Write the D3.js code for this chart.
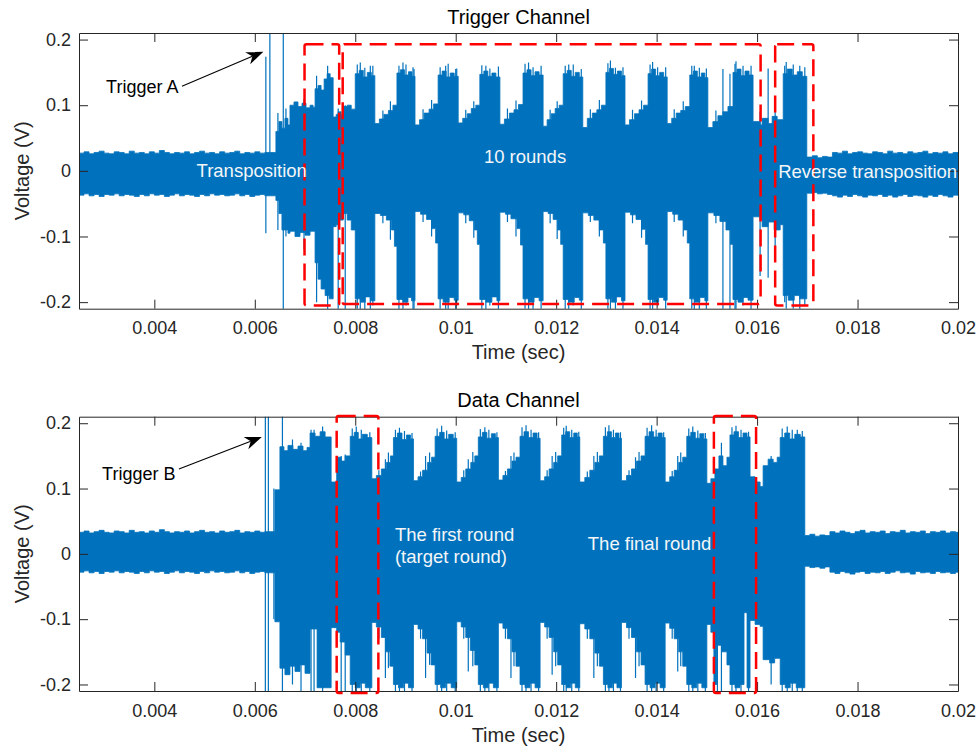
<!DOCTYPE html>
<html>
<head>
<meta charset="utf-8">
<script src="https://cdn.jsdelivr.net/npm/d3@7"></script>
<style>
  body { margin: 0; background: #fff; }
  text { font-family: "Liberation Sans", Arial, Helvetica, sans-serif; }
</style>
</head>
<body>
<svg id="chart" width="979" height="750"></svg>
<script>
// ---- axis settings ----
const timeDomainMs = [2.5, 20];          // time axis, milliseconds
const voltDomain = [-0.21, 0.21];
const xTickValuesMs = [4, 6, 8, 10, 12, 14, 16, 18, 20];
const xTickLabels = ["0.004", "0.006", "0.008", "0.01", "0.012", "0.014", "0.016", "0.018", "0.02"];
const yTickValues = [-0.2, -0.1, 0, 0.1, 0.2];
const yTickLabels = ["-0.2", "-0.1", "0", "0.1", "0.2"];

// ---- Trigger channel envelope: [time (ms), volts], step-wise ----
const trigUpper = [
  [2.5,.027],[2.6,.029],[2.7,.026],[2.8,.028],[2.9,.030],[3.0,.027],[3.1,.026],[3.2,.029],[3.3,.028],[3.4,.026],[3.5,.030],[3.6,.027],[3.7,.028],
  [3.8,.026],[3.9,.029],[4.0,.027],[4.1,.031],[4.2,.028],[4.3,.026],[4.4,.028],[4.5,.027],[4.6,.029],[4.7,.026],[4.8,.028],[4.9,.030],[5.0,.027],
  [5.1,.028],[5.2,.026],[5.3,.029],[5.4,.027],[5.5,.028],[5.6,.030],[5.7,.026],[5.8,.028],[5.9,.027],[6.0,.029],[6.1,.027],[6.2,.028],
  [6.42,.06],[6.48,.075],[6.54,.065],[6.60,.08],[6.66,.07],[6.70,.10],[6.78,.105],[6.86,.098],[6.94,.103],[7.02,.096],[7.10,.10],[7.16,.097],
  [7.20,.125],[7.26,.13],[7.32,.123],[7.38,.14],[7.44,.148],[7.50,.142],[7.56,.082],[7.62,.086],[7.66,.09],[7.72,.085],[7.76,.098],[7.84,.10],[7.92,.094],
  [8.00,.148],[8.08,.153],[8.16,.143],[8.24,.150],[8.32,.145],
  [8.39,.072],[8.48,.079],[8.57,.086],[8.66,.092],[8.75,.10],
  [8.83,.149],[8.90,.154],[8.98,.146],[9.06,.151],[9.13,.144],
  [9.19,.07],[9.28,.078],[9.37,.088],[9.47,.094],[9.56,.102],
  [9.65,.146],[9.73,.152],[9.81,.143],[9.89,.149],[9.97,.144],
  [10.05,.073],[10.14,.08],[10.23,.087],[10.31,.095],[10.40,.10],
  [10.48,.147],[10.56,.152],[10.64,.144],[10.72,.149],[10.80,.143],
  [10.88,.071],[10.97,.079],[11.07,.088],[11.16,.093],[11.25,.101],
  [11.34,.149],[11.42,.154],[11.50,.145],[11.58,.151],[11.66,.146],
  [11.74,.068],[11.82,.078],[11.90,.087],[11.98,.095],[12.06,.10],
  [12.14,.148],[12.22,.153],[12.30,.144],[12.38,.150],[12.46,.143],
  [12.53,.066],[12.62,.08],[12.72,.088],[12.81,.093],[12.90,.10],
  [12.99,.150],[13.06,.156],[13.14,.147],[13.22,.152],[13.30,.145],
  [13.37,.07],[13.46,.078],[13.56,.087],[13.65,.093],[13.74,.10],
  [13.83,.148],[13.90,.155],[13.98,.145],[14.06,.150],[14.14,.143],
  [14.21,.072],[14.30,.08],[14.39,.088],[14.48,.092],[14.57,.098],
  [14.66,.146],[14.73,.152],[14.81,.143],[14.89,.149],[14.96,.142],
  [15.02,.066],[15.12,.075],[15.22,.084],[15.32,.09],[15.42,.098],
  [15.52,.150],[15.60,.155],[15.68,.145],[15.76,.152],[15.84,.146],
  [15.92,.075],[16.06,.07],[16.10,.08],[16.22,.072],[16.30,.083],[16.40,.078],
  [16.52,.148],[16.60,.155],[16.70,.146],[16.80,.151],[16.90,.144],
  [16.99,.021],[17.1,.023],[17.2,.020],[17.3,.022],[17.4,.021],[17.5,.028],[17.6,.027],[17.7,.030],[17.8,.026],[17.9,.028],[18.0,.029],
  [18.1,.027],[18.2,.026],[18.3,.029],[18.4,.028],[18.5,.026],[18.6,.030],[18.7,.027],[18.8,.028],[18.9,.026],[19.0,.029],[19.1,.027],
  [19.2,.028],[19.3,.030],[19.4,.026],[19.5,.028],[19.6,.027],[19.7,.029],[19.8,.026],[19.9,.028],[20,.028]
];
const trigLower = [
  [2.5,-.037],[2.6,-.035],[2.7,-.038],[2.8,-.036],[2.9,-.039],[3.0,-.036],[3.1,-.037],[3.2,-.035],[3.3,-.038],[3.4,-.036],[3.5,-.037],[3.6,-.039],
  [3.7,-.036],[3.8,-.038],[3.9,-.035],[4.0,-.037],[4.1,-.036],[4.2,-.039],[4.3,-.037],[4.4,-.035],[4.5,-.038],[4.6,-.036],[4.7,-.037],[4.8,-.039],
  [4.9,-.036],[5.0,-.038],[5.1,-.035],[5.2,-.037],[5.3,-.036],[5.4,-.038],[5.5,-.037],[5.6,-.035],[5.7,-.038],[5.8,-.036],[5.9,-.039],[6.0,-.037],
  [6.1,-.036],[6.2,-.038],
  [6.42,-.045],[6.48,-.065],[6.54,-.09],[6.66,-.095],[6.70,-.092],[6.80,-.10],[6.90,-.094],[7.00,-.098],[7.10,-.092],
  [7.20,-.14],[7.26,-.165],[7.32,-.18],[7.40,-.19],[7.48,-.195],[7.56,-.085],[7.62,-.082],[7.66,-.075],[7.76,-.065],[7.84,-.075],[7.92,-.09],
  [8.00,-.195],[8.10,-.20],[8.20,-.192],[8.30,-.198],
  [8.39,-.065],[8.50,-.068],[8.62,-.075],[8.72,-.09],[8.78,-.115],
  [8.83,-.196],[8.95,-.20],[9.05,-.193],[9.12,-.198],
  [9.19,-.062],[9.30,-.066],[9.42,-.074],[9.52,-.088],[9.60,-.11],
  [9.65,-.195],[9.75,-.20],[9.87,-.193],[9.97,-.197],
  [10.05,-.064],[10.16,-.067],[10.27,-.076],[10.37,-.09],[10.43,-.112],
  [10.48,-.196],[10.60,-.20],[10.72,-.192],[10.82,-.198],
  [10.88,-.063],[10.99,-.066],[11.10,-.073],[11.22,-.088],[11.29,-.113],
  [11.34,-.195],[11.45,-.20],[11.56,-.193],[11.66,-.198],
  [11.74,-.062],[11.84,-.065],[11.94,-.074],[12.03,-.09],[12.09,-.112],
  [12.14,-.196],[12.25,-.20],[12.36,-.193],[12.46,-.197],
  [12.53,-.064],[12.64,-.068],[12.75,-.075],[12.86,-.09],[12.94,-.11],
  [12.99,-.195],[13.10,-.20],[13.20,-.192],[13.30,-.198],
  [13.37,-.063],[13.48,-.067],[13.59,-.074],[13.70,-.089],[13.78,-.112],
  [13.83,-.196],[13.94,-.20],[14.04,-.193],[14.14,-.197],
  [14.21,-.062],[14.32,-.066],[14.43,-.075],[14.54,-.09],[14.61,-.11],
  [14.66,-.195],[14.76,-.20],[14.86,-.193],[14.96,-.198],
  [15.02,-.064],[15.14,-.068],[15.26,-.077],[15.38,-.09],[15.47,-.112],
  [15.52,-.196],[15.62,-.20],[15.72,-.193],[15.82,-.197],
  [15.92,-.07],[16.06,-.075],[16.10,-.085],[16.22,-.078],[16.34,-.09],[16.46,-.082],
  [16.52,-.19],[16.62,-.197],[16.74,-.19],[16.85,-.195],
  [16.99,-.034],[17.1,-.033],[17.2,-.035],[17.3,-.034],[17.4,-.036],[17.5,-.038],[17.6,-.040],[17.7,-.037],[17.8,-.039],[17.9,-.036],[18.0,-.038],
  [18.1,-.040],[18.2,-.037],[18.3,-.038],[18.4,-.036],[18.5,-.039],[18.6,-.037],[18.7,-.040],[18.8,-.038],[18.9,-.036],[19.0,-.039],[19.1,-.037],
  [19.2,-.038],[19.3,-.040],[19.4,-.037],[19.5,-.039],[19.6,-.036],[19.7,-.038],[19.8,-.040],[19.9,-.037],[20,-.037]
];
// thin excursions drawn as single lines: [time (ms), low V, high V]
const trigSpikes = [
  [6.22,-.095,.174],[6.30,-.035,.23],[6.46,-.09,.088],[6.567,-.23,.23],[6.62,-.10,.095],[6.98,-.12,.11],
  [7.23,-.20,.145],[7.45,-.23,.16],[7.66,-.23,.095],[7.80,-.22,.10],
  [8.04,-.21,.162],[8.10,-.23,.165],[8.19,-.215,.157],[8.30,-.22,.16],[8.35,-.205,.16],[8.55,-.08,.092],[8.70,-.105,.106],
  [8.87,-.212,.16],[8.95,-.23,.165],[9.01,-.205,.162],[9.15,-.22,.158],[9.17,-.215,.155],[9.35,-.078,.094],[9.52,-.10,.108],
  [9.69,-.21,.158],[9.80,-.23,.16],[9.85,-.215,.163],[10.00,-.22,.155],[10.02,-.205,.156],[10.20,-.08,.093],[10.36,-.102,.106],
  [10.52,-.212,.161],[10.60,-.23,.16],[10.68,-.205,.156],[10.85,-.215,.159],[11.03,-.078,.095],[11.20,-.10,.107],
  [11.38,-.21,.163],[11.45,-.23,.165],[11.54,-.215,.158],[11.70,-.21,.16],[11.88,-.08,.093],[12.02,-.104,.106],
  [12.18,-.212,.16],[12.25,-.23,.162],[12.34,-.205,.162],[12.50,-.215,.155],[12.68,-.078,.094],[12.86,-.10,.108],
  [13.03,-.21,.164],[13.08,-.23,.168],[13.18,-.215,.157],[13.33,-.22,.158],[13.52,-.08,.093],[13.70,-.102,.107],
  [13.87,-.212,.162],[13.92,-.23,.166],[14.02,-.205,.158],[14.18,-.22,.158],[14.35,-.078,.094],[14.53,-.10,.106],
  [14.70,-.21,.16],[14.75,-.23,.16],[14.85,-.215,.157],[14.99,-.22,.156],[15.18,-.08,.092],
  [15.32,-.23,.155],[15.46,-.23,.148],[15.56,-.212,.163],[15.58,-.22,.167],[15.72,-.205,.16],[15.88,-.23,.16],
  [16.06,-.16,.09],[16.22,-.163,.156],[16.36,-.13,.10],[16.55,-.20,.16],[16.58,-.21,.166],[16.72,-.21,.162],[16.85,-.215,.16],[16.95,-.205,.158]
];

// ---- Data channel envelope: [time (ms), volts], step-wise ----
const dataUpper = [
  [2.5,.033],[2.6,.035],[2.7,.032],[2.8,.034],[2.9,.036],[3.0,.033],[3.1,.032],[3.2,.035],[3.3,.034],[3.4,.032],[3.5,.036],[3.6,.033],[3.7,.034],
  [3.8,.032],[3.9,.035],[4.0,.033],[4.1,.037],[4.2,.034],[4.3,.032],[4.4,.034],[4.5,.033],[4.6,.035],[4.7,.032],[4.8,.034],[4.9,.036],[5.0,.033],
  [5.1,.034],[5.2,.032],[5.3,.035],[5.4,.033],[5.5,.034],[5.6,.036],[5.7,.032],[5.8,.034],[5.9,.033],[6.0,.035],[6.1,.033],[6.2,.034],
  [6.40,.098],[6.50,.164],[6.58,.158],[6.66,.166],[6.76,.16],[6.86,.165],[6.96,.158],[7.04,.163],
  [7.10,.185],[7.20,.18],[7.30,.187],[7.40,.179],[7.52,.11],[7.63,.148],[7.72,.142],[7.80,.15],
  [7.90,.18],[7.98,.186],[8.06,.176],[8.14,.183],[8.24,.178],
  [8.33,.115],[8.42,.12],[8.52,.13],[8.62,.14],[8.70,.15],
  [8.76,.178],[8.84,.185],[8.93,.175],[9.02,.182],[9.10,.176],
  [9.16,.112],[9.25,.118],[9.34,.128],[9.44,.14],[9.52,.148],
  [9.59,.18],[9.68,.186],[9.77,.176],[9.86,.183],[9.95,.177],
  [10.02,.11],[10.11,.117],[10.20,.13],[10.30,.14],[10.38,.15],
  [10.45,.179],[10.53,.186],[10.62,.177],[10.71,.184],[10.79,.178],
  [10.85,.113],[10.94,.12],[11.03,.13],[11.12,.142],[11.20,.148],
  [11.28,.18],[11.36,.187],[11.45,.178],[11.54,.185],[11.62,.177],
  [11.68,.112],[11.77,.118],[11.86,.13],[11.95,.14],[12.03,.15],
  [12.11,.182],[12.19,.187],[12.27,.178],[12.35,.185],[12.42,.179],
  [12.47,.11],[12.57,.117],[12.67,.128],[12.77,.14],[12.86,.15],
  [12.94,.18],[13.02,.187],[13.10,.178],[13.18,.185],[13.25,.177],
  [13.30,.112],[13.40,.12],[13.50,.13],[13.60,.142],[13.69,.15],
  [13.77,.18],[13.85,.187],[13.94,.179],[14.03,.185],[14.11,.178],
  [14.17,.11],[14.26,.118],[14.35,.128],[14.44,.14],[14.52,.148],
  [14.60,.18],[14.68,.186],[14.77,.177],[14.86,.184],[14.94,.176],
  [15.00,.108],[15.08,.115],[15.16,.13],[15.24,.15],[15.32,.135],[15.40,.148],
  [15.46,.182],[15.54,.187],[15.63,.178],[15.72,.185],[15.80,.179],
  [15.86,.118],[15.96,.11],[16.06,.103],[16.12,.135],[16.22,.145],[16.32,.14],[16.40,.148],
  [16.46,.178],[16.55,.185],[16.65,.176],[16.75,.183],[16.86,.179],
  [16.95,.028],[17.05,.030],[17.15,.027],[17.25,.029],[17.35,.028],[17.45,.034],[17.55,.032],[17.65,.035],[17.75,.033],[17.85,.031],[17.95,.034],
  [18.05,.036],[18.15,.032],[18.25,.034],[18.35,.033],[18.45,.035],[18.55,.031],[18.65,.034],[18.75,.033],[18.85,.036],[18.95,.032],[19.05,.034],
  [19.15,.033],[19.25,.035],[19.35,.031],[19.45,.034],[19.55,.033],[19.65,.035],[19.75,.032],[19.85,.034],[19.95,.033],[20,.033]
];
const dataLower = [
  [2.5,-.028],[2.6,-.026],[2.7,-.029],[2.8,-.027],[2.9,-.030],[3.0,-.027],[3.1,-.028],[3.2,-.026],[3.3,-.029],[3.4,-.027],[3.5,-.028],[3.6,-.030],
  [3.7,-.027],[3.8,-.029],[3.9,-.026],[4.0,-.028],[4.1,-.027],[4.2,-.030],[4.3,-.028],[4.4,-.026],[4.5,-.029],[4.6,-.027],[4.7,-.028],[4.8,-.030],
  [4.9,-.027],[5.0,-.029],[5.1,-.026],[5.2,-.028],[5.3,-.027],[5.4,-.029],[5.5,-.028],[5.6,-.026],[5.7,-.029],[5.8,-.027],[5.9,-.030],[6.0,-.028],
  [6.1,-.027],[6.2,-.029],
  [6.40,-.104],[6.50,-.175],[6.60,-.185],[6.70,-.172],[6.80,-.18],[6.90,-.17],[7.00,-.183],
  [7.10,-.115],[7.24,-.205],[7.52,-.113],[7.63,-.12],[7.70,-.135],[7.80,-.155],
  [7.90,-.20],[8.00,-.205],[8.10,-.198],[8.20,-.205],
  [8.33,-.105],[8.42,-.112],[8.52,-.128],[8.61,-.15],[8.69,-.172],
  [8.76,-.20],[8.86,-.205],[8.96,-.198],[9.06,-.205],
  [9.16,-.108],[9.25,-.115],[9.34,-.13],[9.43,-.152],[9.51,-.17],
  [9.59,-.20],[9.70,-.205],[9.80,-.198],[9.91,-.205],
  [10.02,-.104],[10.11,-.112],[10.20,-.128],[10.29,-.148],[10.38,-.17],
  [10.45,-.20],[10.55,-.205],[10.65,-.198],[10.75,-.205],
  [10.85,-.106],[10.94,-.114],[11.03,-.13],[11.12,-.15],[11.20,-.172],
  [11.28,-.20],[11.38,-.205],[11.48,-.198],[11.58,-.205],
  [11.68,-.105],[11.77,-.112],[11.86,-.128],[11.95,-.15],[12.03,-.17],
  [12.11,-.20],[12.20,-.205],[12.29,-.198],[12.38,-.205],
  [12.47,-.107],[12.57,-.115],[12.67,-.13],[12.77,-.152],[12.86,-.172],
  [12.94,-.20],[13.03,-.205],[13.12,-.198],[13.21,-.205],
  [13.30,-.105],[13.40,-.113],[13.50,-.128],[13.60,-.15],[13.69,-.17],
  [13.77,-.20],[13.87,-.205],[13.97,-.198],[14.07,-.205],
  [14.17,-.106],[14.26,-.114],[14.35,-.13],[14.44,-.15],[14.52,-.172],
  [14.60,-.20],[14.70,-.205],[14.80,-.198],[14.90,-.205],
  [15.00,-.108],[15.08,-.12],[15.14,-.20],[15.20,-.14],[15.30,-.15],[15.40,-.17],
  [15.46,-.20],[15.56,-.205],[15.66,-.20],[15.74,-.09],[15.80,-.205],
  [15.86,-.102],[15.96,-.108],[16.06,-.111],[16.12,-.162],[16.25,-.167],[16.35,-.16],
  [16.46,-.20],[16.56,-.205],[16.66,-.198],[16.78,-.205],
  [16.95,-.019],[17.05,-.021],[17.15,-.020],[17.25,-.022],[17.35,-.020],[17.45,-.028],[17.55,-.030],[17.65,-.027],[17.75,-.029],[17.85,-.031],
  [17.95,-.028],[18.05,-.027],[18.15,-.030],[18.25,-.028],[18.35,-.029],[18.45,-.027],[18.55,-.030],[18.65,-.028],[18.75,-.026],[18.85,-.029],
  [18.95,-.028],[19.05,-.031],[19.15,-.027],[19.25,-.029],[19.35,-.028],[19.45,-.030],[19.55,-.027],[19.65,-.029],[19.75,-.028],[19.85,-.030],
  [19.95,-.028],[20,-.028]
];
const dataSpikes = [
  [6.21,-.23,.23],[6.27,-.23,.23],[6.38,-.10,.10],[6.55,-.23,.23],[6.75,-.20,.175],[6.92,-.21,.17],
  [7.12,-.23,.19],[7.18,-.23,.19],[7.35,-.23,.195],[7.72,-.23,.15],[7.80,-.23,.152],
  [7.94,-.215,.192],[8.02,-.23,.195],[8.12,-.21,.19],[8.29,-.215,.186],[8.47,-.13,.128],[8.60,-.19,.145],[8.66,-.175,.155],
  [8.80,-.215,.19],[8.88,-.23,.193],[8.98,-.21,.188],[9.13,-.215,.185],[9.30,-.13,.126],[9.40,-.19,.15],[9.48,-.17,.155],
  [9.63,-.215,.192],[9.72,-.23,.196],[9.82,-.21,.189],[9.99,-.215,.186],[10.16,-.13,.128],[10.25,-.18,.145],[10.34,-.172,.156],
  [10.49,-.215,.191],[10.58,-.23,.194],[10.66,-.21,.19],[10.82,-.215,.186],[10.99,-.13,.127],[11.10,-.19,.15],[11.16,-.172,.155],
  [11.32,-.215,.194],[11.40,-.23,.197],[11.50,-.21,.19],[11.65,-.215,.186],[11.82,-.13,.128],[11.92,-.185,.15],[11.99,-.172,.156],
  [12.15,-.215,.193],[12.20,-.23,.196],[12.31,-.21,.19],[12.45,-.215,.187],[12.62,-.13,.126],[12.75,-.19,.15],[12.82,-.172,.156],
  [12.98,-.215,.194],[13.05,-.23,.197],[13.14,-.21,.19],[13.28,-.215,.186],[13.45,-.13,.128],[13.58,-.19,.148],[13.65,-.172,.156],
  [13.81,-.215,.193],[13.90,-.23,.197],[13.99,-.21,.19],[14.14,-.215,.186],[14.31,-.13,.127],[14.42,-.18,.15],[14.48,-.172,.155],
  [14.64,-.215,.192],[14.72,-.23,.195],[14.82,-.21,.189],[14.97,-.215,.185],
  [15.21,-.23,.13],[15.29,-.23,.17],[15.50,-.215,.194],[15.58,-.23,.196],[15.68,-.21,.19],[15.83,-.215,.187],
  [16.28,-.20,.15],[16.50,-.215,.192],[16.60,-.23,.195],[16.70,-.21,.19],[16.80,-.23,.19],[16.90,-.215,.188]
];

// ---- annotations ----
// dashed region boxes: [start ms, end ms, low V, high V]
const trigBoxes = [[6.99, 7.68, -0.205, 0.193], [7.75, 16.07, -0.203, 0.193], [16.36, 17.12, -0.205, 0.193]];
const dataBoxes = [[7.63, 8.46, -0.213, 0.211], [15.14, 15.98, -0.213, 0.211]];
// in-plot labels: [text, ms, V, anchor]
const trigLabels = [["Transposition", 4.84, -0.010, "start"], ["10 rounds", 11.38, 0.012, "middle"], ["Reverse transposition", 16.42, -0.011, "start"]];
const dataLabels = [["The first round", 8.79, 0.019, "start"], ["(target round)", 8.79, -0.0145, "start"], ["The final round", 12.63, 0.006, "start"]];
// arrows: [text, text ms, text V, tail ms, tail V, tip ms, tip V]
const trigArrow = ["Trigger A", 3.04, 0.118, 4.55, 0.129, 6.17, 0.1815];
const dataArrow = ["Trigger B", 2.96, 0.113, 4.49, 0.130, 6.14, 0.179];

// ---- layout ----
const svg = d3.select("#chart");
const left = 79, right = 958;
const panels = [
  { title: "Trigger Channel", top: 33, bottom: 308.7, upper: trigUpper, lower: trigLower, spikes: trigSpikes, boxes: trigBoxes, labels: trigLabels, arrow: trigArrow },
  { title: "Data Channel", top: 416.7, bottom: 691, upper: dataUpper, lower: dataLower, spikes: dataSpikes, boxes: dataBoxes, labels: dataLabels, arrow: dataArrow }
];
const blue = "#0072BD";
const axisColor = "#262626";

function stepValue(arr, t) {
  const i = d3.bisector(d => d[0]).right(arr, t) - 1;
  return arr[Math.max(0, i)][1];
}

panels.forEach((p, k) => {
  const x = d3.scaleLinear().domain(timeDomainMs).range([left, right]);
  const y = d3.scaleLinear().domain(voltDomain).range([p.bottom, p.top]);
  const g = svg.append("g");
  const clipId = "clip" + k;
  svg.append("clipPath").attr("id", clipId).append("rect")
    .attr("x", left).attr("y", p.top).attr("width", right - left).attr("height", p.bottom - p.top);

  // merged step envelope of the recorded trace
  const times = Array.from(new Set(p.upper.map(d => d[0]).concat(p.lower.map(d => d[0])))).sort((a, b) => a - b);
  const env = times.map(t => ({ t, hi: stepValue(p.upper, t), lo: stepValue(p.lower, t) }));
  const area = d3.area().curve(d3.curveStepAfter)
    .x(d => x(d.t)).y0(d => y(d.lo)).y1(d => y(d.hi));
  const sig = g.append("g").attr("clip-path", `url(#${clipId})`);
  sig.append("path").datum(env).attr("d", area)
    .attr("fill", blue).attr("stroke", blue).attr("stroke-width", 0.8);
  sig.selectAll("line.spike").data(p.spikes).join("line").attr("class", "spike")
    .attr("x1", d => x(d[0])).attr("x2", d => x(d[0]))
    .attr("y1", d => y(d[1])).attr("y2", d => y(d[2]))
    .attr("stroke", blue).attr("stroke-width", 1.2);

  // axes: ticks inside on all four sides
  const ax = (axis) => axis.tickSizeOuter(0);
  const bottomAxis = g.append("g").attr("transform", `translate(0,${p.bottom})`)
    .call(ax(d3.axisBottom(x).tickValues(xTickValuesMs).tickSizeInner(-9).tickPadding(13)
      .tickFormat((d, i) => xTickLabels[i])));
  const topAxis = g.append("g").attr("transform", `translate(0,${p.top})`)
    .call(ax(d3.axisTop(x).tickValues(xTickValuesMs).tickSizeInner(-9).tickFormat("")));
  const leftAxis = g.append("g").attr("transform", `translate(${left},0)`)
    .call(ax(d3.axisLeft(y).tickValues(yTickValues).tickSizeInner(-9).tickPadding(8)
      .tickFormat((d, i) => yTickLabels[i])));
  const rightAxis = g.append("g").attr("transform", `translate(${right},0)`)
    .call(ax(d3.axisRight(y).tickValues(yTickValues).tickSizeInner(-9).tickFormat("")));
  [bottomAxis, topAxis, leftAxis, rightAxis].forEach(a => {
    a.selectAll("path, line").attr("stroke", axisColor).attr("stroke-width", 1);
    a.selectAll("text").attr("fill", axisColor).style("font-size", "18px")
      .style("font-family", '"Liberation Sans", Arial, sans-serif');
  });

  // dashed region boxes
  g.selectAll("rect.box").data(p.boxes).join("rect").attr("class", "box")
    .attr("x", d => x(d[0])).attr("width", d => x(d[1]) - x(d[0]))
    .attr("y", d => y(d[3])).attr("height", d => y(d[2]) - y(d[3]))
    .attr("rx", 2).attr("fill", "none").attr("stroke", "#FF0000")
    .attr("stroke-width", 2.5).attr("stroke-dasharray", "17,8");

  // in-plot labels
  g.selectAll("text.lab").data(p.labels).join("text").attr("class", "lab")
    .attr("x", d => x(d[1])).attr("y", d => y(d[2]))
    .attr("text-anchor", d => d[3]).attr("fill", "#f4f6f8")
    .style("font-size", "18.5px").text(d => d[0]);

  // arrow annotation
  const a = p.arrow;
  g.append("text").attr("x", x(a[1])).attr("y", y(a[2])).attr("fill", "#000")
    .style("font-size", "18px").text(a[0]);
  const x1 = x(a[3]), y1 = y(a[4]), x2 = x(a[5]), y2 = y(a[6]);
  const ang = Math.atan2(y2 - y1, x2 - x1);
  const hl = 17, hw = 6.5;
  const bx = x2 - hl * Math.cos(ang), by = y2 - hl * Math.sin(ang);
  const nx = x2 - 0.7 * hl * Math.cos(ang), ny = y2 - 0.7 * hl * Math.sin(ang);
  g.append("line").attr("x1", x1).attr("y1", y1).attr("x2", nx).attr("y2", ny)
    .attr("stroke", "#000").attr("stroke-width", 1.1);
  g.append("path").attr("fill", "#000")
    .attr("d", `M${x2},${y2} L${bx - hw * Math.sin(ang)},${by + hw * Math.cos(ang)} L${nx},${ny} L${bx + hw * Math.sin(ang)},${by - hw * Math.cos(ang)} Z`);

  // title and axis labels
  const cx = (left + right) / 2;
  g.append("text").attr("x", cx).attr("y", p.top - 9.5).attr("text-anchor", "middle")
    .attr("fill", "#000").style("font-size", "20px").text(p.title);
  g.append("text").attr("x", cx).attr("y", p.bottom + 50.5).attr("text-anchor", "middle")
    .attr("fill", axisColor).style("font-size", "20px").text("Time (sec)");
  g.append("text").attr("transform", `translate(29,${(p.top + p.bottom) / 2}) rotate(-90)`)
    .attr("text-anchor", "middle").attr("fill", axisColor).style("font-size", "20px").text("Voltage (V)");
});
</script>
</body>
</html>
